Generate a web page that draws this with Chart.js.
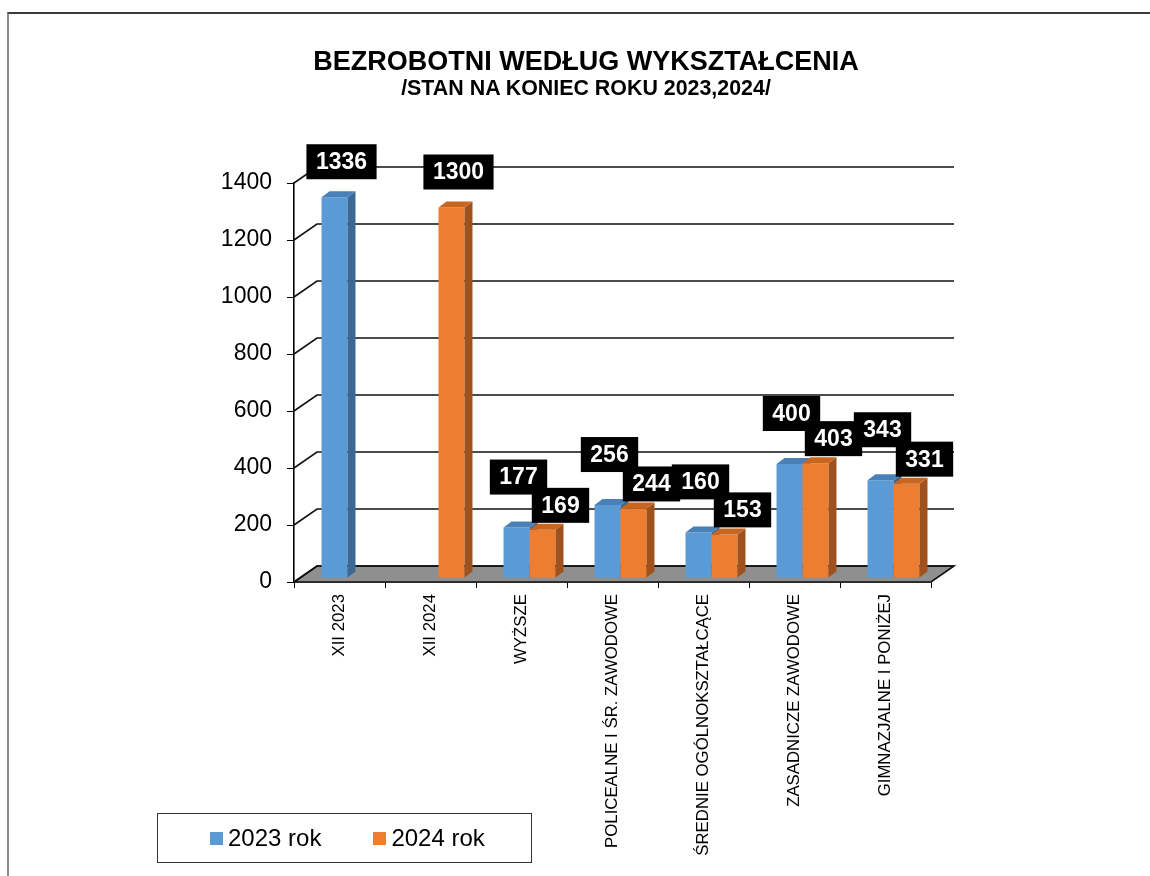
<!DOCTYPE html>
<html lang="pl">
<head>
<meta charset="utf-8">
<title>Bezrobotni według wykształcenia</title>
<script src="https://cdn.jsdelivr.net/npm/chart.js@4.4.1/dist/chart.umd.min.js"></script>
<style>
    body { margin: 0; background: #fff; }
    #wrap { position: relative; width: 1150px; height: 876px; overflow: hidden;
            font-family: "Liberation Sans", Arial, sans-serif; color: #000; }
    #frame { position: absolute; left: 7px; top: 12px; width: 1200px; height: 900px;
             border-top: 2px solid #3a3a3a; border-left: 2px solid #8a8a8a; }
    #chart { position: absolute; left: 0; top: 0; }
    .tytul { position: absolute; left: 86px; width: 1000px; text-align: center; white-space: nowrap;
             font-weight: bold; line-height: 1; }
    #t1 { top: 48px; font-size: 27px; }
    #t2 { top: 78px; font-size: 21.4px; }
    #legend { position: absolute; left: 157px; top: 813px; width: 375px; height: 50px;
              border: 1px solid #333; display: flex; align-items: center; padding-left: 52px;
              box-sizing: border-box; font-size: 24px; white-space: nowrap; }
    #legend .item { display: flex; align-items: center; margin-right: 52px; flex-shrink: 0; }
    #legend .sq { width: 13px; height: 13px; margin-right: 5px; }
</style>
</head>
<body>
<div id="wrap">
    <div id="frame"></div>
    <canvas id="chart" width="1150" height="876"></canvas>
    <div class="tytul" id="t1">BEZROBOTNI WEDŁUG WYKSZTAŁCENIA</div>
    <div class="tytul" id="t2">/STAN NA KONIEC ROKU 2023,2024/</div>
    <div id="legend"></div>
</div>
<script>
const kategorie = ['XII 2023', 'XII 2024', 'WYŻSZE', 'POLICEALNE I ŚR. ZAWODOWE',
    'ŚREDNIE OGÓLNOKSZTAŁCĄCE', 'ZASADNICZE ZAWODOWE', 'GIMNAZJALNE I PONIŻEJ'];
const rok2023 = [1336, null, 177, 256, 160, 400, 343];
const rok2024 = [null, 1300, 169, 244, 153, 403, 331];
const nazwySerii = ['2023 rok', '2024 rok'];
const osYMin = 0;
const osYMax = 1400;
const osYKrok = 200;

const czcionka = '"Liberation Sans", Arial, sans-serif';

// kolory: przód, góra, bok słupka
const kolory = [
    {front: '#5B9BD5', gora: '#4A80B8', bok: '#3B6895'},
    {front: '#ED7D31', gora: '#C9651F', bok: '#A0521E'}
];

const glebia = {dx: 23, dy: -16};                      // tylna ściana i podłoga
const slupek = {dx: 8, dy: -6, przesX: 8, przesY: -4}; // głębia słupka
const etykiety = {
    pojedyncza: {dx: 7, odstep: 18},
    serie: [{dx: 2, odstep: 33}, {dx: 18, odstep: 7}]
};

function rysujSlupek(ctx, bar, k) {
    const {x, y, base, width} = bar.getProps(['x', 'y', 'base', 'width'], true);
    const l = x - width / 2, r = x + width / 2;
    bar.draw(ctx);
    ctx.fillStyle = k.bok;
    ctx.beginPath();
    ctx.moveTo(r, y);
    ctx.lineTo(r + slupek.dx, y + slupek.dy);
    ctx.lineTo(r + slupek.dx, base + slupek.dy);
    ctx.lineTo(r, base);
    ctx.closePath();
    ctx.fill();
    ctx.fillStyle = k.gora;
    ctx.beginPath();
    ctx.moveTo(l, y);
    ctx.lineTo(r, y);
    ctx.lineTo(r + slupek.dx, y + slupek.dy);
    ctx.lineTo(l + slupek.dx, y + slupek.dy);
    ctx.closePath();
    ctx.fill();
}

const efekt3d = {
    id: 'efekt3d',
    beforeDatasetsDraw(chart) {
        const {ctx, chartArea: a, scales: {y}} = chart;
        ctx.save();
        // podłoga
        ctx.beginPath();
        ctx.moveTo(a.left, a.bottom);
        ctx.lineTo(a.right, a.bottom);
        ctx.lineTo(a.right + glebia.dx, a.bottom + glebia.dy);
        ctx.lineTo(a.left + glebia.dx, a.bottom + glebia.dy);
        ctx.closePath();
        ctx.fillStyle = '#8f8f8f';
        ctx.fill();
        ctx.strokeStyle = '#111';
        ctx.lineWidth = 1.6;
        ctx.stroke();
        // linie siatki na tylnej ścianie
        y.ticks.forEach(t => {
            const py = y.getPixelForValue(t.value);
            ctx.beginPath();
            ctx.moveTo(a.left, py);
            ctx.lineTo(a.left + glebia.dx, py + glebia.dy);
            ctx.lineTo(a.right + glebia.dx, py + glebia.dy);
            ctx.stroke();
        });
        ctx.restore();
    },
    // słupki rysujemy sami, kategoria po kategorii
    beforeDatasetDraw() {
        return false;
    },
    afterDatasetsDraw(chart) {
        const ctx = chart.ctx;
        const zbiory = chart.data.datasets;
        ctx.save();
        ctx.translate(slupek.przesX, slupek.przesY);
        kategorie.forEach((_, i) => {
            zbiory.forEach((ds, d) => {
                if (ds.data[i] == null) return;
                rysujSlupek(ctx, chart.getDatasetMeta(d).data[i], kolory[d]);
            });
        });
        ctx.restore();

        ctx.save();
        ctx.font = 'bold 23px ' + czcionka;
        ctx.textAlign = 'center';
        ctx.textBaseline = 'middle';
        zbiory.forEach((ds, d) => {
            const meta = chart.getDatasetMeta(d);
            const inne = zbiory[1 - d].data;
            ds.data.forEach((v, i) => {
                if (v == null) return;
                const bar = meta.data[i];
                const poz = inne[i] == null ? etykiety.pojedyncza : etykiety.serie[d];
                const cx = bar.x + slupek.przesX + poz.dx;
                const dol = bar.y + slupek.przesY - poz.odstep;
                const tekst = String(v);
                const w = ctx.measureText(tekst).width + 19;
                const h = 35;
                ctx.fillStyle = '#000';
                ctx.fillRect(cx - w / 2, dol - h, w, h);
                ctx.fillStyle = '#fff';
                ctx.fillText(tekst, cx, dol - h / 2 + 1);
            });
        });
        ctx.restore();
    }
};

const chart = new Chart(document.getElementById('chart'), {
    type: 'bar',
    data: {
        labels: kategorie,
        datasets: [
            {label: nazwySerii[0], data: rok2023, backgroundColor: kolory[0].front},
            {label: nazwySerii[1], data: rok2024, backgroundColor: kolory[1].front}
        ]
    },
    options: {
        responsive: false,
        devicePixelRatio: 1,
        animation: false,
        categoryPercentage: 0.571,
        barPercentage: 1,
        layout: {padding: {left: 200, right: 219, top: 183, bottom: 0}},
        plugins: {
            legend: {display: false},
            tooltip: {enabled: false}
        },
        scales: {
            x: {
                grid: {display: true, drawOnChartArea: false, drawTicks: true, tickLength: 6, color: '#000', offset: true},
                border: {display: true, color: '#000', width: 1.6},
                ticks: {
                    autoSkip: false, minRotation: 90, maxRotation: 90, padding: 6, color: '#000',
                    font: {family: czcionka, size: 16.8}
                },
                afterFit(scale) { scale.height = 294; }
            },
            y: {
                min: osYMin,
                max: osYMax,
                grid: {display: true, drawOnChartArea: false, drawTicks: true, tickLength: 7, color: '#000'},
                border: {display: true, color: '#000', width: 1.6},
                ticks: {
                    stepSize: osYKrok, padding: 15, color: '#000',
                    font: {family: czcionka, size: 23},
                    callback: v => String(v)
                },
                afterFit(scale) { scale.width = 94; }
            }
        }
    },
    plugins: [efekt3d]
});

// legenda jako HTML
const legenda = document.getElementById('legend');
chart.data.datasets.forEach(ds => {
    const el = document.createElement('div');
    el.className = 'item';
    el.innerHTML = `<span class="sq" style="background:${ds.backgroundColor}"></span><span>${ds.label}</span>`;
    legenda.appendChild(el);
});
</script>
</body>
</html>
